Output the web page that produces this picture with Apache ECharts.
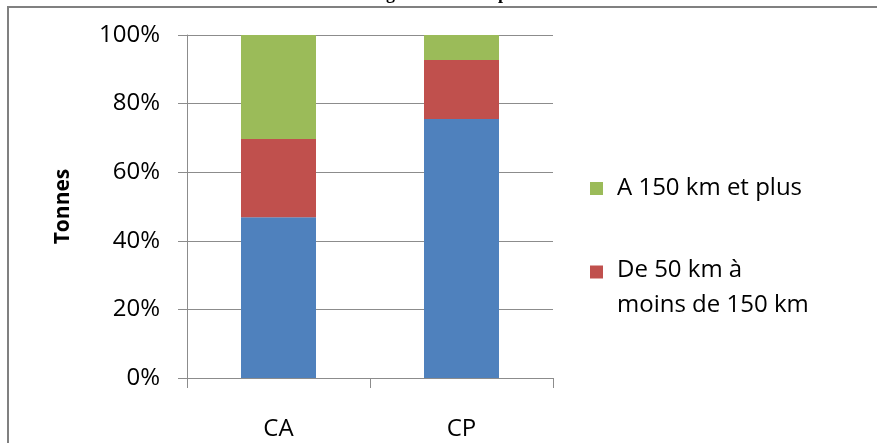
<!DOCTYPE html>
<html>
<head>
<meta charset="utf-8">
<script src="https://cdn.jsdelivr.net/npm/echarts@6/dist/echarts.min.js"></script>
<style>html,body{margin:0;padding:0;background:#fff}#c{width:877px;height:443px}</style>
</head>
<body>
<div id="c"></div>
<script>
const categories = ['CA', 'CP'];
const seriesNames = ['Moins de 50 km', 'De 50 km à moins de 150 km', 'A 150 km et plus'];
const shortKm = [46.9, 75.5];
const midKm = [22.8, 17.2];
const longKm = [30.3, 7.3];
const yTicks = [0, 20, 40, 60, 80, 100];
const titleText = 'selon la longueur de transport en 2008';

const font = '"Open Sans", sans-serif';
const chart = echarts.init(document.getElementById('c'));
chart.setOption({
  animation: false,
  grid: { left: 187, right: 324, top: 35, bottom: 65 },
  graphic: [
    { type: 'rect', shape: { x: 8, y: 7, width: 900, height: 500 }, style: { fill: 'none', stroke: '#808080', lineWidth: 2 }, silent: true },
    { type: 'text', x: 447, y: 3, style: { text: titleText, font: 'bold 18px "Liberation Serif", serif', fill: '#000', align: 'center', verticalAlign: 'bottom' }, silent: true }
  ],
  legend: [
    {
      orient: 'vertical', left: 590, top: 171, padding: 0, itemWidth: 13, itemHeight: 13,
      icon: 'rect',
      textStyle: { fontFamily: font, fontSize: 24, color: '#000', lineHeight: 35, padding: [0, 0, 0, 9] },
      data: [{ name: seriesNames[2] }]
    },
    {
      orient: 'vertical', left: 590, top: 258, padding: 0, itemWidth: 13, itemHeight: 13,
      icon: 'rect',
      formatter: () => '{a|De 50 km à}\n{b|moins de 150 km}',
      textStyle: {
        fontFamily: font, fontSize: 24, color: '#000', padding: [0, 0, 0, 9],
        rich: {
          a: { fontFamily: font, fontSize: 24, color: '#000', lineHeight: 66 },
          b: { fontFamily: font, fontSize: 24, color: '#000', lineHeight: 4 }
        }
      },
      data: [{ name: seriesNames[1] }]
    }
  ],
  xAxis: {
    type: 'category', data: categories,
    axisLine: { lineStyle: { color: '#8c8c8c', width: 1 } },
    axisTick: { show: true, length: 10, lineStyle: { color: '#8c8c8c' } },
    axisLabel: { fontFamily: font, fontSize: 24, color: '#000', margin: 39 }
  },
  yAxis: {
    type: 'value', min: 0, max: 100, interval: 20,
    name: 'Tonnes', nameLocation: 'middle', nameGap: 113, nameRotate: 90,
    nameTextStyle: { fontFamily: font, fontSize: 21, fontWeight: 'bold', color: '#000' },
    axisLine: { show: true, lineStyle: { color: '#8c8c8c', width: 1 } },
    axisTick: { show: true, length: 9, lineStyle: { color: '#8c8c8c' } },
    splitLine: { show: true, lineStyle: { color: '#8c8c8c', width: 1 } },
    axisLabel: { fontFamily: font, fontSize: 24, color: '#000', margin: 27,
      formatter: v => yTicks.includes(v) ? v + '%' : '' }
  },
  series: [
    { name: seriesNames[0], type: 'bar', stack: 's', data: shortKm, barWidth: 75, itemStyle: { color: '#4F81BD' } },
    { name: seriesNames[1], type: 'bar', stack: 's', data: midKm, barWidth: 75, itemStyle: { color: '#C0504D' } },
    { name: seriesNames[2], type: 'bar', stack: 's', data: longKm, barWidth: 75, itemStyle: { color: '#9BBB59' } }
  ]
});
</script>
</body>
</html>
